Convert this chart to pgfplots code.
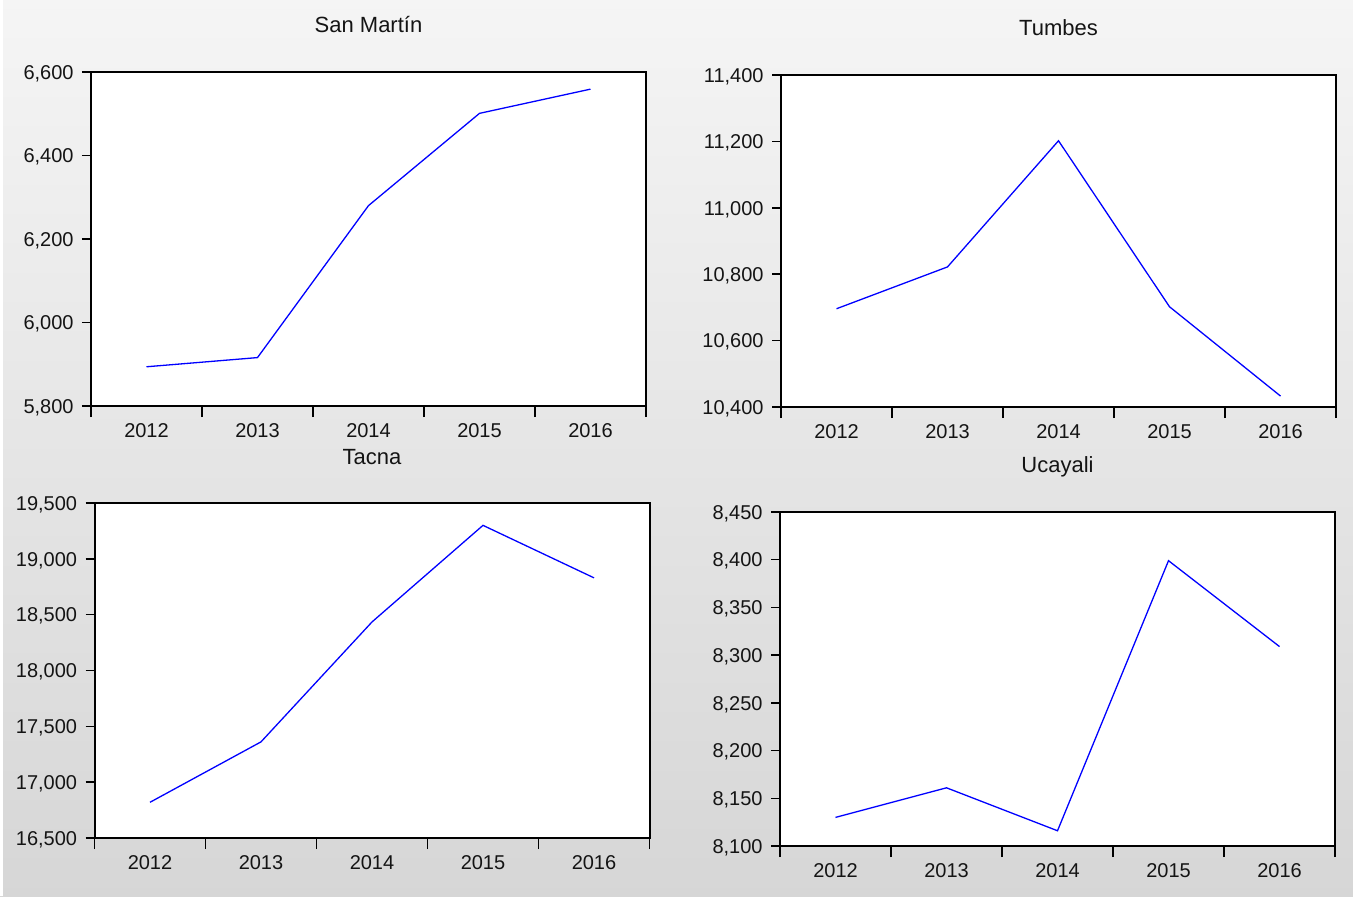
\documentclass[border=0pt]{standalone}
\usepackage{fontspec}
\setmainfont{Liberation Sans}
\usepackage{pgfplots}
\pgfplotsset{compat=1.18}

\pgfplotsset{
  panel/.style={
    scale only axis,
    width=277.5pt,
    xmin=-0.5, xmax=4.5,
    xtick={0,...,4},
    xticklabels={2012,2013,2014,2015,2016},
    minor xtick={-0.5,0.5,...,4.5},
    major x tick style={draw=none},
    xtick pos=lower, ytick pos=left,
    tick align=outside,
    major tick length=4.5pt,
    minor tick length=5.5pt,
    every tick/.style={black, line width=0.75pt},
    axis line style={line width=1pt},
    axis background/.style={fill=white},
    scaled y ticks=false,
    tick label style={font=\fontsize{10}{12}\selectfont, text=black!92},
    xticklabel style={anchor=center, yshift=-8pt},
    yticklabel style={anchor=base east, inner sep=0pt, xshift=-4pt, yshift=-0.36em},
    /pgf/number format/1000 sep={,},
    /pgf/number format/assume math mode=true,
    every axis title shift=0pt,
    title style={font=\fontsize{11}{13}\selectfont, text=black!92, anchor=center, at={(0.5,1)}},
  },
  line/.style={blue, line width=0.65pt},
}

\begin{document}
\begin{tikzpicture}
% 1 px of the reference = 0.5pt
\shade[top color=black!4, middle color=black!8, bottom color=black!16] (0pt,0pt) rectangle (676.5pt,-448pt);
\fill[white] (0pt,0pt) rectangle (1.5pt,-448pt);
\coordinate (p1) at (45.5pt,-203pt);
\coordinate (p2) at (390.5pt,-203.5pt);
\coordinate (p3) at (47.25pt,-419pt);
\coordinate (p4) at (390pt,-423pt);

% San Martin
\begin{axis}[panel, at={(p1)}, anchor=south west, height=167pt,
  ymin=5800, ymax=6600, ytick={5800,6000,...,6600},
  title={San Martín}, title style={yshift=24pt}]
\addplot[line] coordinates {(0,5894) (1,5916) (2,6280) (3,6501) (4,6559)};
\end{axis}

% Tumbes
\begin{axis}[panel, at={(p2)}, anchor=south west, height=166pt,
  ymin=10400, ymax=11400, ytick={10400,10600,...,11400},
  title={Tumbes}, title style={yshift=23.5pt}]
\addplot[line] coordinates {(0,10696) (1,10822) (2,11202) (3,10702) (4,10433)};
\end{axis}

% Tacna
\begin{axis}[panel, at={(p3)}, anchor=south west, height=167.5pt,
  ymin=16500, ymax=19500, ytick={16500,17000,...,19500},
  title={Tacna}, title style={yshift=23pt}]
\addplot[line] coordinates {(0,16820) (1,17361) (2,18435) (3,19300) (4,18830)};
\end{axis}

% Ucayali
\begin{axis}[panel, at={(p4)}, anchor=south west, height=167pt,
  ymin=8100, ymax=8450, ytick={8100,8150,...,8450},
  title={Ucayali}, title style={yshift=22.5pt}]
\addplot[line] coordinates {(0,8130) (1,8161) (2,8116) (3,8399) (4,8309)};
\end{axis}
\end{tikzpicture}
\end{document}
